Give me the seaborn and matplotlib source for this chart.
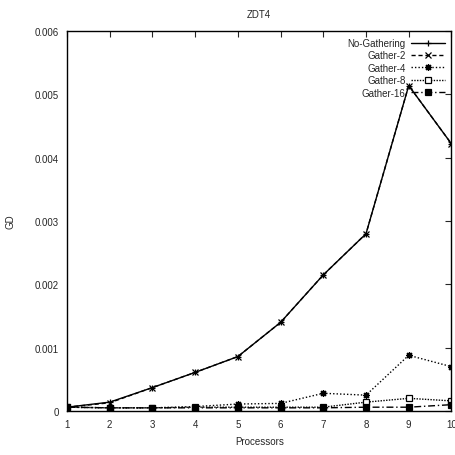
import numpy as np
import pandas as pd
import matplotlib
matplotlib.use("Agg")
import matplotlib.pyplot as plt
import seaborn as sns

# Data (ZDT4, GD vs processors)
processors = [1, 2, 3, 4, 5, 6, 7, 8, 9, 10]
no_gathering = [0.00006, 0.00014, 0.00037, 0.00061, 0.00086, 0.0014, 0.00215, 0.0028, 0.00514, 0.00422]
gather_2 = [0.00006, 0.00013, 0.00037, 0.00061, 0.00086, 0.0014, 0.00215, 0.0028, 0.00514, 0.00422]
gather_4 = [0.00006, 0.00005, 0.00005, 0.00007, 0.00011, 0.00012, 0.00028, 0.00025, 0.00088, 0.0007]
gather_8 = [0.00006, 0.00005, 0.00005, 0.00006, 0.00006, 0.00006, 0.00006, 0.00014, 0.0002, 0.00016]
gather_16 = [0.00006, 0.00005, 0.00005, 0.00005, 0.00005, 0.00005, 0.00005, 0.00006, 0.00006, 0.0001]

series = {
    "No-Gathering": no_gathering,
    "Gather-2": gather_2,
    "Gather-4": gather_4,
    "Gather-8": gather_8,
    "Gather-16": gather_16,
}

# gnuplot-like line and point styles
styles = {
    "No-Gathering": dict(linestyle="-", marker="+", mfc="black"),
    "Gather-2": dict(linestyle=(0, (3, 2)), marker="x", mfc="black"),
    "Gather-4": dict(linestyle=(0, (1, 1.5)), marker=(8, 2, 0), mfc="black"),
    "Gather-8": dict(linestyle=(0, (1, 1)), marker="s", mfc="white"),
    "Gather-16": dict(linestyle=(0, (5, 2, 1, 2)), marker="s", mfc="black"),
}

sns.set_style("white")
plt.rcParams["font.family"] = ["Liberation Sans", "DejaVu Sans"]
plt.rcParams["font.size"] = 7

fig = plt.figure(figsize=(4.56, 4.56), dpi=100)
ax = fig.add_axes([0.147, 0.0965, 0.843, 0.833])

for name, values in series.items():
    df = pd.DataFrame({"Processors": processors, "GD": values})
    st = styles[name]
    sns.lineplot(data=df, x="Processors", y="GD", ax=ax, color="black",
                 linewidth=1.0, linestyle=st["linestyle"], marker=st["marker"],
                 markersize=5, markerfacecolor=st["mfc"], markeredgecolor="black",
                 markeredgewidth=0.9, label=name)

ax.set_xlim(1, 10)
ax.set_ylim(0, 0.006)
ax.set_xticks(processors)
ax.set_yticks([0, 0.001, 0.002, 0.003, 0.004, 0.005, 0.006])
ax.set_yticklabels(["0", "0.001", "0.002", "0.003", "0.004", "0.005", "0.006"])
ax.tick_params(direction="in", length=4, width=0.8, top=True, right=True,
               labelsize=7, pad=6)
for sp in ax.spines.values():
    sp.set_color("black")
    sp.set_linewidth(1.0)

ax.set_xlabel("Processors", fontsize=7, labelpad=5)
ax.set_ylabel("GD", fontsize=7, labelpad=14)
ax.set_title("ZDT4", fontsize=7, pad=10)

leg = ax.legend(loc="upper right", frameon=False, markerfirst=False,
                fontsize=7, handlelength=3.5, labelspacing=0.25,
                borderaxespad=0.3, handletextpad=0.5)

fig.savefig("out.png", dpi=100)
